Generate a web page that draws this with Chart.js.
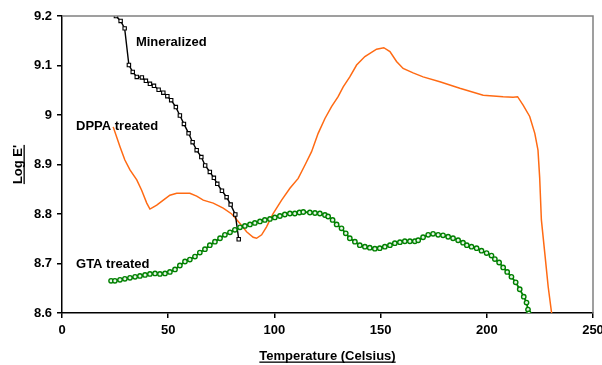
<!DOCTYPE html>
<html>
<head>
<meta charset="utf-8">
<script src="https://cdn.jsdelivr.net/npm/chart.js@4/dist/chart.umd.min.js"></script>
<style>
  html, body { margin: 0; padding: 0; background: #ffffff; }
  canvas { display: block; }
</style>
</head>
<body>
<canvas id="chart" width="602" height="365"></canvas>
<script>
// Storage modulus (log E') against temperature for three bone treatments.

const xTickValues = [0, 50, 100, 150, 200, 250];
const yTickValues = [8.6, 8.7, 8.8, 8.9, 9.0, 9.1, 9.2];
const yTickLabels = ['8.6', '8.7', '8.8', '8.9', '9', '9.1', '9.2'];

const seriesNames = ['Mineralized', 'DPPA treated', 'GTA treated'];

// Mineralized
const mineralizedTemp = [25.4, 27.6, 29.5, 31.5, 33.3, 35.2, 37.6, 39.5, 41.4, 43.3, 45.5, 47.7,
  49.6, 51.4, 53.6, 55.5, 57.4, 59.6, 61.5, 63.4, 65.6, 67.4, 69.6, 71.5, 73.1, 75.3, 77.5,
  79.4, 81.6, 83.2];
const mineralizedLogE = [9.200, 9.190, 9.175, 9.101, 9.087, 9.077, 9.076, 9.069, 9.063, 9.059,
  9.051, 9.045, 9.038, 9.030, 9.016, 8.999, 8.982, 8.963, 8.945, 8.929, 8.915, 8.898, 8.885,
  8.873, 8.861, 8.847, 8.834, 8.819, 8.799, 8.749];

// DPPA treated
const dppaTemp = [24.1, 27.3, 29.6, 32.0, 35.2, 37.5, 39.9, 41.4, 43.0, 44.6, 47.7, 50.8, 54.0,
  60.2, 63.4, 66.5, 71.2, 75.9, 79.9, 83.8, 86.9, 90.0, 91.6, 94.0, 96.3, 97.9, 99.4, 103.4,
  107.3, 111.2, 114.4, 117.5, 120.6, 123.8, 126.9, 130.0, 132.4, 135.5, 138.7, 142.6, 148.1,
  151.5, 154.4, 157.5, 160.6, 165.3, 170.0, 177.9, 187.3, 198.3, 207.7, 212.4, 214.5, 217.1,
  220.2, 222.6, 224.1, 224.9, 225.7, 227.3, 228.9, 230.6];
const dppaLogE = [8.976, 8.936, 8.909, 8.889, 8.869, 8.848, 8.822, 8.810, 8.814, 8.818, 8.828,
  8.838, 8.842, 8.842, 8.836, 8.828, 8.822, 8.812, 8.800, 8.781, 8.764, 8.753, 8.751, 8.758,
  8.774, 8.788, 8.801, 8.828, 8.852, 8.872, 8.899, 8.926, 8.963, 8.993, 9.017, 9.037, 9.057,
  9.077, 9.101, 9.118, 9.133, 9.136, 9.128, 9.108, 9.094, 9.085, 9.077, 9.067, 9.054, 9.040,
  9.037, 9.036, 9.037, 9.020, 8.997, 8.963, 8.929, 8.873, 8.788, 8.721, 8.653, 8.597];

// GTA treated
const gtaTemp = [23.1, 24.9, 27.3, 29.6, 32.0, 34.4, 36.7, 39.1, 41.4, 43.8, 46.1, 48.5, 50.8,
  53.2, 55.5, 57.9, 60.2, 62.6, 64.9, 67.3, 69.6, 72.0, 74.4, 76.7, 79.1, 81.4, 83.8, 86.1,
  88.5, 90.8, 93.2, 95.5, 97.9, 100.2, 102.6, 104.9, 107.3, 109.6, 111.8, 113.6, 116.7, 119.1,
  121.4, 123.8, 125.3, 127.4, 129.3, 131.6, 133.6, 135.5, 137.9, 140.2, 142.6, 144.9, 147.3,
  149.6, 152.0, 154.4, 156.7, 159.1, 161.4, 163.8, 166.1, 167.7, 170.0, 172.4, 174.7, 177.1,
  179.4, 181.8, 184.1, 186.5, 188.8, 190.6, 192.8, 195.2, 197.5, 199.9, 202.2, 203.8, 205.8,
  207.7, 209.6, 211.6, 213.6, 215.5, 217.4, 218.7, 219.4, 219.8];
const gtaLogE = [8.665, 8.665, 8.667, 8.669, 8.671, 8.673, 8.675, 8.677, 8.679, 8.680, 8.679,
  8.680, 8.683, 8.688, 8.696, 8.704, 8.708, 8.714, 8.722, 8.729, 8.737, 8.744, 8.751, 8.758,
  8.763, 8.768, 8.773, 8.776, 8.779, 8.782, 8.785, 8.788, 8.790, 8.793, 8.796, 8.799, 8.801,
  8.801, 8.803, 8.804, 8.803, 8.802, 8.801, 8.798, 8.795, 8.788, 8.779, 8.771, 8.761, 8.751,
  8.744, 8.737, 8.734, 8.732, 8.730, 8.731, 8.734, 8.737, 8.741, 8.743, 8.745, 8.745, 8.745,
  8.747, 8.753, 8.758, 8.760, 8.758, 8.757, 8.754, 8.751, 8.747, 8.742, 8.737, 8.734, 8.731,
  8.726, 8.721, 8.716, 8.709, 8.702, 8.692, 8.683, 8.673, 8.662, 8.648, 8.633, 8.621, 8.607,
  8.599];

const toPoints = (xs, ys) => xs.map((x, i) => ({ x, y: ys[i] }));

const FONT = '"Liberation Sans", Arial, Helvetica, sans-serif';

// Frame, axis titles (underlined) and in-plot series labels
const decorations = {
  id: 'decorations',
  afterDraw(chart) {
    const { ctx, chartArea: a, scales: { x, y } } = chart;
    ctx.save();

    ctx.strokeStyle = '#808080';
    ctx.lineWidth = 1.5;
    ctx.beginPath();
    ctx.moveTo(a.left, a.top);
    ctx.lineTo(a.right, a.top);
    ctx.lineTo(a.right, a.bottom);
    ctx.stroke();

    ctx.fillStyle = '#000000';
    ctx.font = 'bold 13px ' + FONT;
    ctx.textBaseline = 'alphabetic';
    ctx.textAlign = 'left';

    const labelAnchors = [
      [34.8, 9.140],
      [6.6, 8.969],
      [6.6, 8.691]
    ];
    seriesNames.forEach((name, i) => {
      ctx.fillText(name, x.getPixelForValue(labelAnchors[i][0]), y.getPixelForValue(labelAnchors[i][1]));
    });

    // x-axis title
    const xTitle = 'Temperature (Celsius)';
    const cx = (a.left + a.right) / 2;
    const base = 360;
    ctx.textAlign = 'center';
    ctx.fillText(xTitle, cx, base);
    const wx = ctx.measureText(xTitle).width;
    ctx.fillRect(cx - wx / 2, base + 1.5, wx, 1.3);

    // y-axis title
    const yTitle = "Log E'";
    ctx.translate(22, (a.top + a.bottom) / 2);
    ctx.rotate(-Math.PI / 2);
    ctx.fillText(yTitle, 0, 0);
    const wy = ctx.measureText(yTitle).width;
    ctx.fillRect(-wy / 2, 1.5, wy, 1.3);

    ctx.restore();
  }
};

new Chart(document.getElementById('chart'), {
  type: 'scatter',
  data: {
    datasets: [
      {
        label: seriesNames[2],
        data: toPoints(gtaTemp, gtaLogE),
        showLine: true,
        borderColor: '#008000',
        borderWidth: 1.8,
        pointStyle: 'circle',
        pointRadius: 2.2,
        pointBorderWidth: 1.4,
        pointBorderColor: '#008000',
        pointBackgroundColor: '#e6f4e6',
        tension: 0
      },
      {
        label: seriesNames[0],
        data: toPoints(mineralizedTemp, mineralizedLogE),
        showLine: true,
        borderColor: '#000000',
        borderWidth: 1.4,
        pointStyle: 'rect',
        pointRadius: 2.4,
        pointBorderWidth: 1.1,
        pointBorderColor: '#000000',
        pointBackgroundColor: '#ffffff',
        tension: 0
      },
      {
        label: seriesNames[1],
        data: toPoints(dppaTemp, dppaLogE),
        showLine: true,
        borderColor: '#ff6a13',
        borderWidth: 1.5,
        pointRadius: 0,
        tension: 0
      }
    ]
  },
  options: {
    responsive: false,
    devicePixelRatio: 1,
    animation: false,
    layout: { padding: { left: 0, right: 9, top: 16, bottom: 0 } },
    plugins: {
      legend: { display: false },
      tooltip: { enabled: false }
    },
    scales: {
      x: {
        type: 'linear',
        min: 0,
        max: 250,
        afterBuildTicks(scale) { scale.ticks = xTickValues.map(v => ({ value: v })); },
        afterFit(scale) {
          scale.height = 52;
          scale.paddingLeft = 0;
          scale.paddingRight = 0;
        },
        ticks: {
          color: '#000000',
          font: { family: FONT, size: 13, weight: 'bold' },
          padding: 5,
          maxRotation: 0,
          autoSkip: false
        },
        grid: {
          display: true,
          drawOnChartArea: false,
          drawTicks: true,
          tickLength: 5,
          color: '#000000',
          lineWidth: 1.5
        },
        border: { display: true, color: '#000000', width: 1.5 }
      },
      y: {
        type: 'linear',
        min: 8.6,
        max: 9.2,
        afterBuildTicks(scale) { scale.ticks = yTickValues.map(v => ({ value: v })); },
        afterFit(scale) {
          scale.width = 62;
          scale.paddingTop = 0;
          scale.paddingBottom = 0;
        },
        ticks: {
          color: '#000000',
          font: { family: FONT, size: 13, weight: 'bold' },
          padding: 5,
          autoSkip: false,
          callback(value) {
            const i = yTickValues.findIndex(v => Math.abs(v - value) < 1e-6);
            return i >= 0 ? yTickLabels[i] : '';
          }
        },
        grid: {
          display: true,
          drawOnChartArea: false,
          drawTicks: true,
          tickLength: 5,
          color: '#000000',
          lineWidth: 1.5
        },
        border: { display: true, color: '#000000', width: 1.5 }
      }
    }
  },
  plugins: [decorations]
});
</script>
</body>
</html>
